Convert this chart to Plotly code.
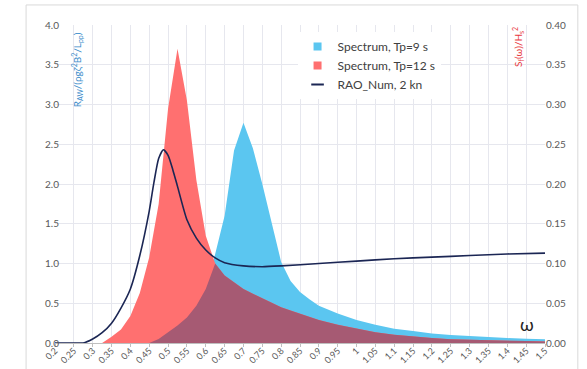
import plotly.graph_objects as go

# Wave frequency grid (rad/s) shared by both spectra
omega = [0.2, 0.225, 0.25, 0.275, 0.3, 0.325, 0.35, 0.375, 0.4, 0.425,
         0.45, 0.475, 0.5, 0.525, 0.55, 0.575, 0.6, 0.625, 0.65, 0.675,
         0.7, 0.725, 0.75, 0.775, 0.8, 0.825, 0.85, 0.875, 0.9, 0.95,
         1.0, 1.05, 1.1, 1.15, 1.2, 1.25, 1.3, 1.35, 1.4, 1.45, 1.5]

# Normalised wave spectra S_f(w)/Hs^2
spec_tp9 = [0, 0, 0, 0, 0, 0, 0, 0, 0, 0,
            0.0, 0.005, 0.013, 0.022, 0.032, 0.047, 0.068, 0.112, 0.160, 0.242,
            0.277, 0.245, 0.200, 0.150, 0.102, 0.078, 0.064, 0.055, 0.047, 0.037,
            0.029, 0.023, 0.018, 0.015, 0.012, 0.010, 0.0085, 0.0072, 0.0062, 0.0055, 0.0048]

spec_tp12 = [0, 0, 0, 0, 0, 0, 0.008, 0.017, 0.034, 0.063,
             0.108, 0.175, 0.295, 0.370, 0.305, 0.205, 0.135, 0.100, 0.085, 0.076,
             0.068, 0.062, 0.056, 0.050, 0.045, 0.041, 0.037, 0.033, 0.029, 0.023,
             0.018, 0.0135, 0.0105, 0.008, 0.0063, 0.0048, 0.004, 0.0033, 0.0028, 0.0024, 0.002]

# Added-resistance RAO, numerical, 2 kn
rao_omega = [0.2, 0.225, 0.25, 0.275, 0.3, 0.325, 0.35, 0.375, 0.4, 0.425,
             0.45, 0.4625, 0.475, 0.4875, 0.5, 0.5125, 0.525, 0.55, 0.575, 0.6,
             0.625, 0.65, 0.7, 0.75, 0.8, 0.9, 1.0, 1.1, 1.2, 1.3, 1.4, 1.5]
rao_num = [0, 0, 0, 0, 0.05, 0.13, 0.25, 0.44, 0.68, 1.10,
           1.66, 2.02, 2.32, 2.43, 2.36, 2.18, 1.97, 1.55, 1.32, 1.17,
           1.07, 1.01, 0.97, 0.96, 0.97, 1.00, 1.03, 1.06, 1.08, 1.10, 1.12, 1.13]

x_tick_labels = ["0.2", "0.25", "0.3", "0.35", "0.4", "0.45", "0.5", "0.55", "0.6",
                 "0.65", "0.7", "0.75", "0.8", "0.85", "0.9", "0.95", "1", "1.05",
                 "1.1", "1.15", "1.2", "1.25", "1.3", "1.35", "1.4", "1.45", "1.5"]
left_tick_labels = ["0.0", "0.5", "1.0", "1.5", "2.0", "2.5", "3.0", "3.5", "4.0"]
right_tick_labels = ["0.00", "0.05", "0.10", "0.15", "0.20", "0.25", "0.30", "0.35", "0.40"]

BLUE = "#5BC6F0"
RED = "#FF7070"
MAUVE = "#A65A73"
NAVY = "#1B2654"
GRID = "#E6E7EE"
FONT = "Lato"

# region where the two spectra overlap
overlap = [min(a, b) for a, b in zip(spec_tp9, spec_tp12)]

fig = go.Figure()

for ys, col in ((spec_tp9, BLUE), (spec_tp12, RED), (overlap, MAUVE)):
    fig.add_trace(go.Scatter(
        x=omega, y=ys, mode="lines", fill="tozeroy", fillcolor=col,
        line=dict(width=0, color=col), showlegend=False, hoverinfo="skip",
        yaxis="y"))

fig.add_trace(go.Scatter(
    x=rao_omega, y=rao_num, mode="lines", yaxis="y2", showlegend=False,
    line=dict(color=NAVY, width=1.6, shape="spline", smoothing=0.6)))

# legend entries
fig.add_trace(go.Scatter(x=[None], y=[None], mode="markers", name="Spectrum, Tp=9 s",
                         marker=dict(symbol="square", size=8, color=BLUE)))
fig.add_trace(go.Scatter(x=[None], y=[None], mode="markers", name="Spectrum, Tp=12 s",
                         marker=dict(symbol="square", size=8, color=RED)))
fig.add_trace(go.Scatter(x=[None], y=[None], mode="markers", name="RAO_Num, 2 kn",
                         marker=dict(symbol="line-ew", size=9,
                                     line=dict(width=2, color=NAVY))))

fig.update_layout(
    width=587, height=369,
    margin=dict(l=55, r=42, t=25, b=26),
    paper_bgcolor="white", plot_bgcolor="white",
    font=dict(family=FONT, color="#595959", size=10),
    xaxis=dict(range=[0.2, 1.5], tickvals=[float(t) for t in x_tick_labels],
               ticktext=x_tick_labels, tickangle=-45, tickfont=dict(size=9),
               showgrid=True, gridcolor=GRID, zeroline=False, automargin=False,
               showline=True, linecolor="#BFBFBF", ticks="outside", ticklen=3,
               tickcolor="#BFBFBF", ticklabelstandoff=-5),
    yaxis=dict(side="right", range=[0, 0.4], automargin=False,
               tickvals=[float(t) for t in right_tick_labels],
               ticktext=right_tick_labels, showgrid=True, gridcolor=GRID,
               zeroline=False, tickfont=dict(size=10)),
    yaxis2=dict(side="left", overlaying="y", range=[0, 4], automargin=False,
                tickvals=[float(t) for t in left_tick_labels],
                ticktext=left_tick_labels, showgrid=False, zeroline=False,
                tickfont=dict(size=10), ticklabelstandoff=-5),
    legend=dict(x=0.495, y=0.978, xanchor="left", yanchor="top",
                bgcolor="white", font=dict(size=12, color="#404040", family=FONT)),
    annotations=[
        dict(text="R<sub>AW</sub>/(ρgζ<sup>2</sup>B<sup>2</sup>/L<sub>pp</sub>)",
             xref="paper", yref="paper", x=0.045, y=0.858, textangle=-90,
             xanchor="center", yanchor="middle",
             showarrow=False, font=dict(size=10, color="#3C8DCB", family=FONT)),
        dict(text="S<sub>f</sub>(ω)/H<sub>s</sub><sup>2</sup>",
             xref="paper", yref="paper", x=0.945, y=0.931, textangle=-90,
             xanchor="center", yanchor="middle",
             showarrow=False, font=dict(size=10, color="#E8383D", family=FONT)),
        dict(text="ω", xref="paper", yref="paper", x=0.963, y=0.06,
             xanchor="center", yanchor="middle",
             showarrow=False, font=dict(size=18, color="#262626", family=FONT)),
    ],
    shapes=[dict(type="rect", xref="paper", yref="paper",
                 x0=-0.059, x1=1.067, y0=-0.3, y1=1.063,
                 line=dict(color="#D9D9D9", width=1), layer="below")],
)

fig.write_html("out.html")
